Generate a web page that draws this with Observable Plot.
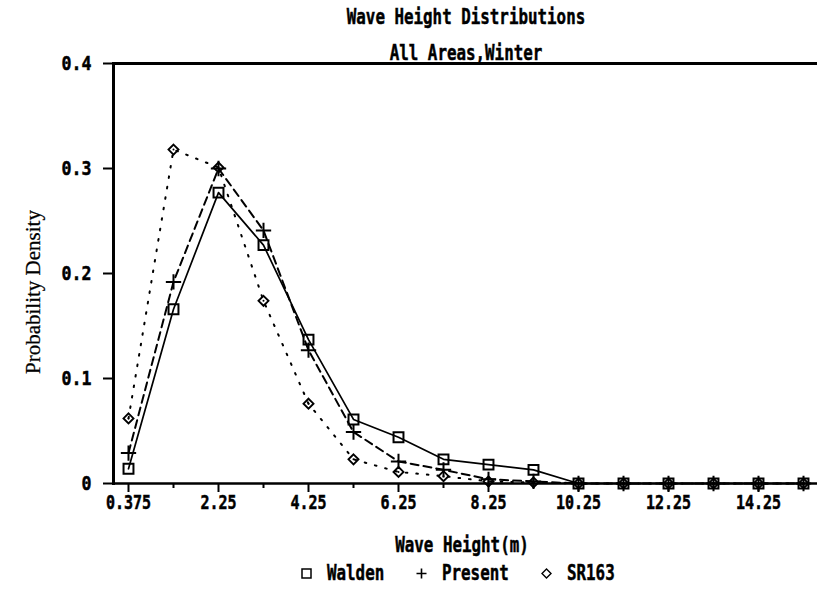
<!DOCTYPE html>
<html>
<head>
<meta charset="utf-8">
<script src="https://cdn.jsdelivr.net/npm/d3@7"></script>
<script src="https://cdn.jsdelivr.net/npm/@observablehq/plot@0.6"></script>
<style>
  html, body { margin: 0; padding: 0; background: #fff; }
  #chart { position: relative; width: 817px; height: 589px; overflow: hidden; background: #fff; }
  #chart svg { position: absolute; left: 0; top: 0; }
  #chart svg text { font-family: "DejaVu Sans Mono", "Liberation Mono", monospace; font-weight: bold; fill: #000;
                    stroke: #000; stroke-width: 0.5px; }
  #chart svg g[aria-label="y-axis tick label"] text { font-size: 20px !important; }
  #chart svg g[aria-label="x-axis tick label"] text { font-size: 19px !important; }
  .mono { position: absolute; font-family: "DejaVu Sans Mono", "Liberation Mono", monospace; font-weight: bold;
          font-size: 22px; line-height: 22px; white-space: nowrap; color: #000; -webkit-text-stroke: 0.5px #000; }
  .centered { transform: translateX(-50%) scaleX(0.72); }
  #ylabel { position: absolute; left: 33px; top: 292px; font-family: "Liberation Serif", "DejaVu Serif", serif;
            font-size: 21px; white-space: nowrap; transform: translate(-50%, -50%) rotate(-90deg); color: #000;
            -webkit-text-stroke: 0.25px #000; }
  #legend { position: absolute; left: 458px; top: 562px; display: flex; align-items: center;
            transform: translateX(-50%); white-space: nowrap; }
  #legend .item { display: flex; align-items: center; margin-right: 32px; }
  #legend .item:last-child { margin-right: 0; }
  #legend svg { position: static; margin-right: 15px; }
  #legend .lab { font-family: "DejaVu Sans Mono", "Liberation Mono", monospace; font-weight: bold; font-size: 22px;
                 line-height: 22px; display: inline-block; width: 0; -webkit-text-stroke: 0.5px #000; }
  #legend .lab span { display: inline-block; transform: scaleX(0.72); transform-origin: left center; }
</style>
</head>
<body>
<div id="chart"></div>
<script>
// Wave-height bins (bin centres, metres)
const heights = ["0.375", "1.25", "2.25", "3.25", "4.25", "5.25", "6.25", "7.25",
                 "8.25", "9.25", "10.25", "11.25", "12.25", "13.25", "14.25", "15.25"];

// Probability density per bin for each distribution
const walden  = [0.014, 0.166, 0.277, 0.227, 0.137, 0.061, 0.044, 0.023, 0.018, 0.013, 0, 0, 0, 0, 0, 0];
const present = [0.029, 0.192, 0.300, 0.241, 0.127, 0.049, 0.021, 0.013, 0.004, 0.002, 0, 0, 0, 0, 0, 0];
const sr163   = [0.062, 0.318, 0.301, 0.174, 0.076, 0.023, 0.011, 0.007, 0.002, 0.001, 0, 0, 0, 0, 0, 0];

const seriesNames = ["Walden", "Present", "SR163"];

const yTicks = [0, 0.1, 0.2, 0.3, 0.4];
const yTickLabels = ["0", "0.1", "0.2", "0.3", "0.4"];
const xTickLabels = ["0.375", "2.25", "4.25", "6.25", "8.25", "10.25", "12.25", "14.25"];
const xMinorTicks = heights.filter(h => !xTickLabels.includes(h));

const titleText = "Wave Height Distributions";
const subtitleText = "All Areas,Winter";
const xLabel = "Wave Height(m)";
const yLabel = "Probability Density";

const toRows = (values, series) => heights.map((h, i) => ({height: h, density: values[i], series}));
const waldenRows = toRows(walden, seriesNames[0]);
const presentRows = toRows(present, seriesNames[1]);
const srRows = toRows(sr163, seriesNames[2]);

const plot = Plot.plot({
  width: 817,
  height: 589,
  marginTop: 63,
  marginBottom: 106,
  marginLeft: 113,
  marginRight: 0,
  style: {background: "white", color: "black", overflow: "visible"},
  x: {type: "point", domain: heights, padding: 0.2},
  y: {domain: [0, 0.4]},
  marks: [
    Plot.line(srRows, {x: "height", y: "density", stroke: "black", strokeWidth: 2, strokeDasharray: "1.6,9"}),
    Plot.line(presentRows, {x: "height", y: "density", stroke: "black", strokeWidth: 2, strokeDasharray: "8,5"}),
    Plot.line(waldenRows, {x: "height", y: "density", stroke: "black", strokeWidth: 1.7}),
    Plot.dot(srRows, {x: "height", y: "density", symbol: "diamond2", r: 4.5, stroke: "black", strokeWidth: 1.9}),
    Plot.dot(srRows, {x: "height", y: "density", r: 1, fill: "black"}),
    Plot.dot(presentRows, {x: "height", y: "density", symbol: "plus", r: 5, stroke: "black", strokeWidth: 2}),
    Plot.dot(waldenRows, {x: "height", y: "density", symbol: "square", r: 5.6, fill: "none", stroke: "black", strokeWidth: 2}),
    Plot.ruleY([0], {stroke: "black", strokeWidth: 2.5}),
    Plot.ruleY([0.4], {stroke: "black", strokeWidth: 3}),
    Plot.frame({anchor: "left", stroke: "black", strokeWidth: 3}),
    Plot.axisY(yTicks, {tickSize: 10, tickPadding: 12, strokeWidth: 2, fontSize: 20,
      tickFormat: d => yTickLabels[yTicks.indexOf(d)], label: null}),
    Plot.axisX(xTickLabels, {tickSize: 9, tickPadding: 3, strokeWidth: 2, fontSize: 19,
      tickFormat: d => d, label: null}),
    Plot.axisX(xMinorTicks, {tickSize: 5, strokeWidth: 2, tickFormat: () => "", label: null})
  ]
});

const chart = document.getElementById("chart");
chart.appendChild(plot);

// narrow the bold monospace tick labels horizontally
function squeeze(selector, sx) {
  d3.select(plot).selectAll(selector).each(function () {
    const t = this.getAttribute("transform");
    if (t) {
      this.setAttribute("transform", t + ` scale(${sx},1)`);
    } else {
      const x = +(this.getAttribute("x") || 0), y = +(this.getAttribute("y") || 0);
      this.removeAttribute("x"); this.removeAttribute("y");
      this.setAttribute("transform", `translate(${x},${y}) scale(${sx},1)`);
    }
  });
}
squeeze('g[aria-label="x-axis tick label"] text', 0.79);
squeeze('g[aria-label="y-axis tick label"] text', 0.83);

// titles and axis labels
function addText(text, cls, left, top) {
  const el = document.createElement("div");
  el.className = cls;
  el.textContent = text;
  el.style.left = left + "px";
  el.style.top = top + "px";
  chart.appendChild(el);
  return el;
}
addText(titleText, "mono centered", 466, 6);
addText(subtitleText, "mono centered", 466, 42);
addText(xLabel, "mono centered", 462, 534);

const yl = document.createElement("div");
yl.id = "ylabel";
yl.textContent = yLabel;
chart.appendChild(yl);

// legend
const legendSymbols = {
  Walden: '<rect x="1" y="1" width="9" height="9" fill="none" stroke="black" stroke-width="1.5"/>',
  Present: '<path d="M5.5 0.5V10.5M0.5 5.5H10.5" stroke="black" stroke-width="1.6"/>',
  SR163: '<path d="M5.5 1L10 5.5L5.5 10L1 5.5Z" fill="none" stroke="black" stroke-width="1.4"/>'
};
const legend = document.createElement("div");
legend.id = "legend";
seriesNames.forEach(name => {
  const item = document.createElement("div");
  item.className = "item";
  // label box width follows the squeezed text
  const w = Math.round(name.length * 22 * 0.602 * 0.72);
  item.innerHTML = `<svg width="11" height="11" viewBox="0 0 11 11">${legendSymbols[name]}</svg>` +
                   `<span class="lab" style="width:${w}px"><span>${name}</span></span>`;
  legend.appendChild(item);
});
chart.appendChild(legend);
</script>
</body>
</html>
